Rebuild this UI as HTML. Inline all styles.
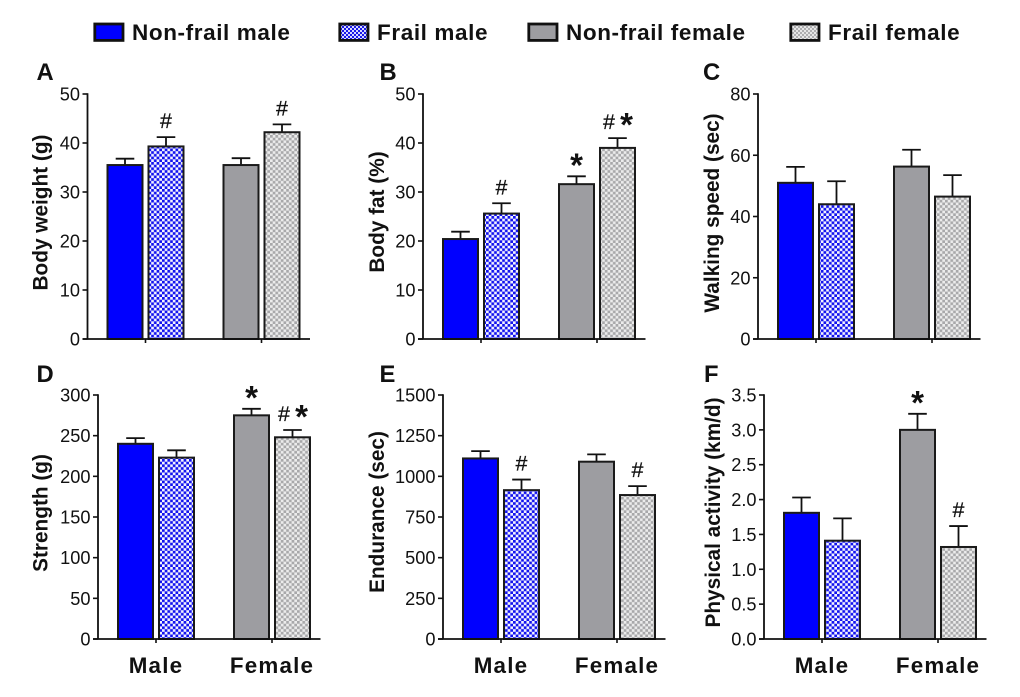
<!DOCTYPE html>
<html>
<head>
<meta charset="utf-8">
<style>
html,body{margin:0;padding:0;background:#fff}
svg{display:block}
text{font-family:"Liberation Sans",sans-serif;fill:#111}
</style>
</head>
<body>
<svg id="chart" xmlns="http://www.w3.org/2000/svg" width="1020" height="697" viewBox="0 0 1020 697">
<defs>
<pattern id="pat-blue" patternUnits="userSpaceOnUse" width="5.4" height="5.4"><rect width="5.4" height="5.4" fill="#f4f4ff"/><rect width="2.7" height="2.7" fill="#1212ee"/><rect x="2.7" y="2.7" width="2.7" height="2.7" fill="#1212ee"/></pattern>
<pattern id="pat-gray" patternUnits="userSpaceOnUse" width="5.4" height="5.4"><rect width="5.4" height="5.4" fill="#ececec"/><rect width="2.7" height="2.7" fill="#a8a8aa"/><rect x="2.7" y="2.7" width="2.7" height="2.7" fill="#a8a8aa"/></pattern>
<pattern id="leg-blue" patternUnits="userSpaceOnUse" width="4" height="4"><rect width="4" height="4" fill="#d8d8ff"/><rect width="2" height="2" fill="#1a1ae8"/><rect x="2" y="2" width="2" height="2" fill="#1a1ae8"/></pattern>
<pattern id="leg-gray" patternUnits="userSpaceOnUse" width="4" height="4"><rect width="4" height="4" fill="#e6e6e6"/><rect width="2" height="2" fill="#aeaeb0"/><rect x="2" y="2" width="2" height="2" fill="#aeaeb0"/></pattern>
</defs>
<g id="legend"></g>
<g id="panels"></g>
</svg>
<script>
var seriesNames = ['Non-frail male', 'Frail male', 'Non-frail female', 'Frail female'];
var seriesFills = ['#0000ff', 'url(#pat-blue)', '#9d9da1', 'url(#pat-gray)'];
var legendFills = ['#0000ff', 'url(#leg-blue)', '#9d9da1', 'url(#leg-gray)'];
var groupLabels = ['Male', 'Female'];

var panelLetters = ['A', 'B', 'C', 'D', 'E', 'F'];
var panelTitles = ['Body weight (g)', 'Body fat (%)', 'Walking speed (sec)', 'Strength (g)', 'Endurance (sec)', 'Physical activity (km/d)'];

var ticksA = [0, 10, 20, 30, 40, 50];
var ticksB = [0, 10, 20, 30, 40, 50];
var ticksC = [0, 20, 40, 60, 80];
var ticksD = [0, 50, 100, 150, 200, 250, 300];
var ticksE = [0, 250, 500, 750, 1000, 1250, 1500];
var ticksF = ['0.0', '0.5', '1.0', '1.5', '2.0', '2.5', '3.0', '3.5'];

var valuesA = [35.5, 39.3, 35.5, 42.2];
var valuesB = [20.4, 25.6, 31.6, 39.0];
var valuesC = [51.0, 44.0, 56.3, 46.5];
var valuesD = [240, 223, 275, 248];
var valuesE = [1110, 915, 1090, 885];
var valuesF = [1.81, 1.41, 3.00, 1.32];

var errorsA = [1.3, 1.9, 1.4, 1.6];
var errorsB = [1.5, 2.1, 1.6, 2.0];
var errorsC = [5.2, 7.5, 5.5, 7.0];
var errorsD = [7, 9, 8, 9];
var errorsE = [45, 65, 45, 55];
var errorsF = [0.22, 0.32, 0.23, 0.30];

var marksA = ['', '#', '', '#'];
var marksB = ['', '#', '*', '#*'];
var marksC = ['', '', '', ''];
var marksD = ['', '', '*', '#*'];
var marksE = ['', '#', '', '#'];
var marksF = ['', '', '*', '#'];

var NS = 'http://www.w3.org/2000/svg';
function mk(parent, tag, attrs, txt) {
  var e = document.createElementNS(NS, tag);
  for (var k in attrs) e.setAttribute(k, attrs[k]);
  if (txt !== undefined) e.textContent = txt;
  parent.appendChild(e);
  return e;
}

/* legend */
var legend = document.getElementById('legend');
var legendSwatchX = [94, 339, 528, 790];
seriesNames.forEach(function (name, i) {
  var g = mk(legend, 'g', {});
  
  
  var sw = mk(g, 'rect', {x: legendSwatchX[i] + 0.8, y: 24, width: 28.2, height: 16.4, fill: legendFills[i], stroke: '#111', 'stroke-width': 2.8});
  
  
  var t = mk(g, 'text', {x: legendSwatchX[i] + 38, y: 40, 'font-size': 22.5, 'font-weight': 'bold', 'letter-spacing': 0.6}, name);
  
  
});

/* panels */
var panelsRoot = document.getElementById('panels');
var panelAxisX = [87.5, 423, 758, 98, 443, 764];
var panelTop = [94, 94, 94, 395, 395, 395];
var panelBase = [339, 339, 339, 639, 639, 639];
var panelMax = [50, 50, 80, 300, 1500, 3.5];
var panelTitleX = [47.5, 384, 719, 47.5, 384, 720];
var panelTitleY = [212.5, 212, 213, 513, 512, 512.5];
var panelLetterX = [36.5, 379.5, 703, 36.5, 379.5, 704];
var panelLetterY = [80, 80, 80, 382, 382, 382];
var panelTicks = [ticksA, ticksB, ticksC, ticksD, ticksE, ticksF];
var panelValues = [valuesA, valuesB, valuesC, valuesD, valuesE, valuesF];
var panelErrors = [errorsA, errorsB, errorsC, errorsD, errorsE, errorsF];
var panelMarks = [marksA, marksB, marksC, marksD, marksE, marksF];
var barOffset = [20, 61, 136, 177];
var barW = 35;

panelLetters.forEach(function (letter, p) {
  var ax = panelAxisX[p], top = panelTop[p], base = panelBase[p], maxV = panelMax[p];
  function y(v) { return base - (Number(v) / maxV) * (base - top); }

  var g = mk(panelsRoot, 'g', {});
  
  

  var l = mk(g, 'text', {x: panelLetterX[p], y: panelLetterY[p], 'font-size': 23.8, 'font-weight': 'bold'}, letter);
  
  

  var tx = panelTitleX[p], ty = panelTitleY[p];
  var title = mk(g, 'text', {x: tx, y: ty, 'font-size': 20.8, 'font-weight': 'bold', 'text-anchor': 'middle', transform: 'rotate(-90 ' + tx + ' ' + ty + ')'}, panelTitles[p]);
  
  

  /* bars and error bars */
  panelValues[p].forEach(function (v, i) {
    var bx = ax + barOffset[i];
    var by = y(v);
    var ey = y(v + panelErrors[p][i]);
    var cx = bx + barW / 2;
    var eb = mk(g, 'path', {d: 'M' + cx + ' ' + by + 'V' + ey + 'M' + (cx - 9.3) + ' ' + ey + 'H' + (cx + 9.3), fill: 'none', stroke: '#111', 'stroke-width': 1.8});
    
    
    var r = mk(g, 'rect', {x: bx, y: by, width: barW, height: base - by, fill: seriesFills[i], stroke: '#1a1a1a', 'stroke-width': 2});
    
    

    var m = panelMarks[p][i];
    if (m.indexOf('#') >= 0) {
      var hx = m.length > 1 ? cx - 8.5 : cx;
      var h = mk(g, 'text', {x: hx, y: ey - 9, 'font-size': 21.5, 'text-anchor': 'middle', stroke: '#111', 'stroke-width': 0.25}, '#');
      
      
    }
    if (m.indexOf('*') >= 0) {
      var sx = m.length > 1 ? cx + 9 : cx;
      var sy = m.length > 1 ? ey - 2 : ey + 0.3;
      var s = mk(g, 'text', {x: sx, y: sy, 'font-size': 33, 'font-weight': 'bold', 'text-anchor': 'middle'}, '*');
      
      
    }
  });

  /* axes */
  var axisX = mk(g, 'line', {x1: ax - 5, x2: ax + 222.5, y1: base, y2: base, stroke: '#111', 'stroke-width': 1.8});
  
  
  var axisY = mk(g, 'line', {x1: ax, x2: ax, y1: top - 0.8, y2: base, stroke: '#111', 'stroke-width': 1.8});
  
  

  panelTicks[p].forEach(function (t) {
    var ty2 = y(t);
    var tk = mk(g, 'line', {x1: ax - 5, x2: ax, y1: ty2, y2: ty2, stroke: '#111', 'stroke-width': 1.6});
    
    
    var lb = mk(g, 'text', {x: ax - 7.5, y: ty2 + 6.5, 'font-size': 18.2, 'text-anchor': 'end'}, String(t));
    
    
  });

  groupLabels.forEach(function (name, gi) {
    var gx = ax + (gi === 0 ? 58 : 174);
    var tk = mk(g, 'line', {x1: gx, x2: gx, y1: base, y2: base + 4, stroke: '#111', 'stroke-width': 1.6});
    
    
    if (p >= 3) {
      var lb = mk(g, 'text', {x: gx, y: base + 34, 'font-size': 22.4, 'font-weight': 'bold', 'text-anchor': 'middle', 'letter-spacing': 1.2}, name);
      
      
    }
  });
});
</script>
</body>
</html>
